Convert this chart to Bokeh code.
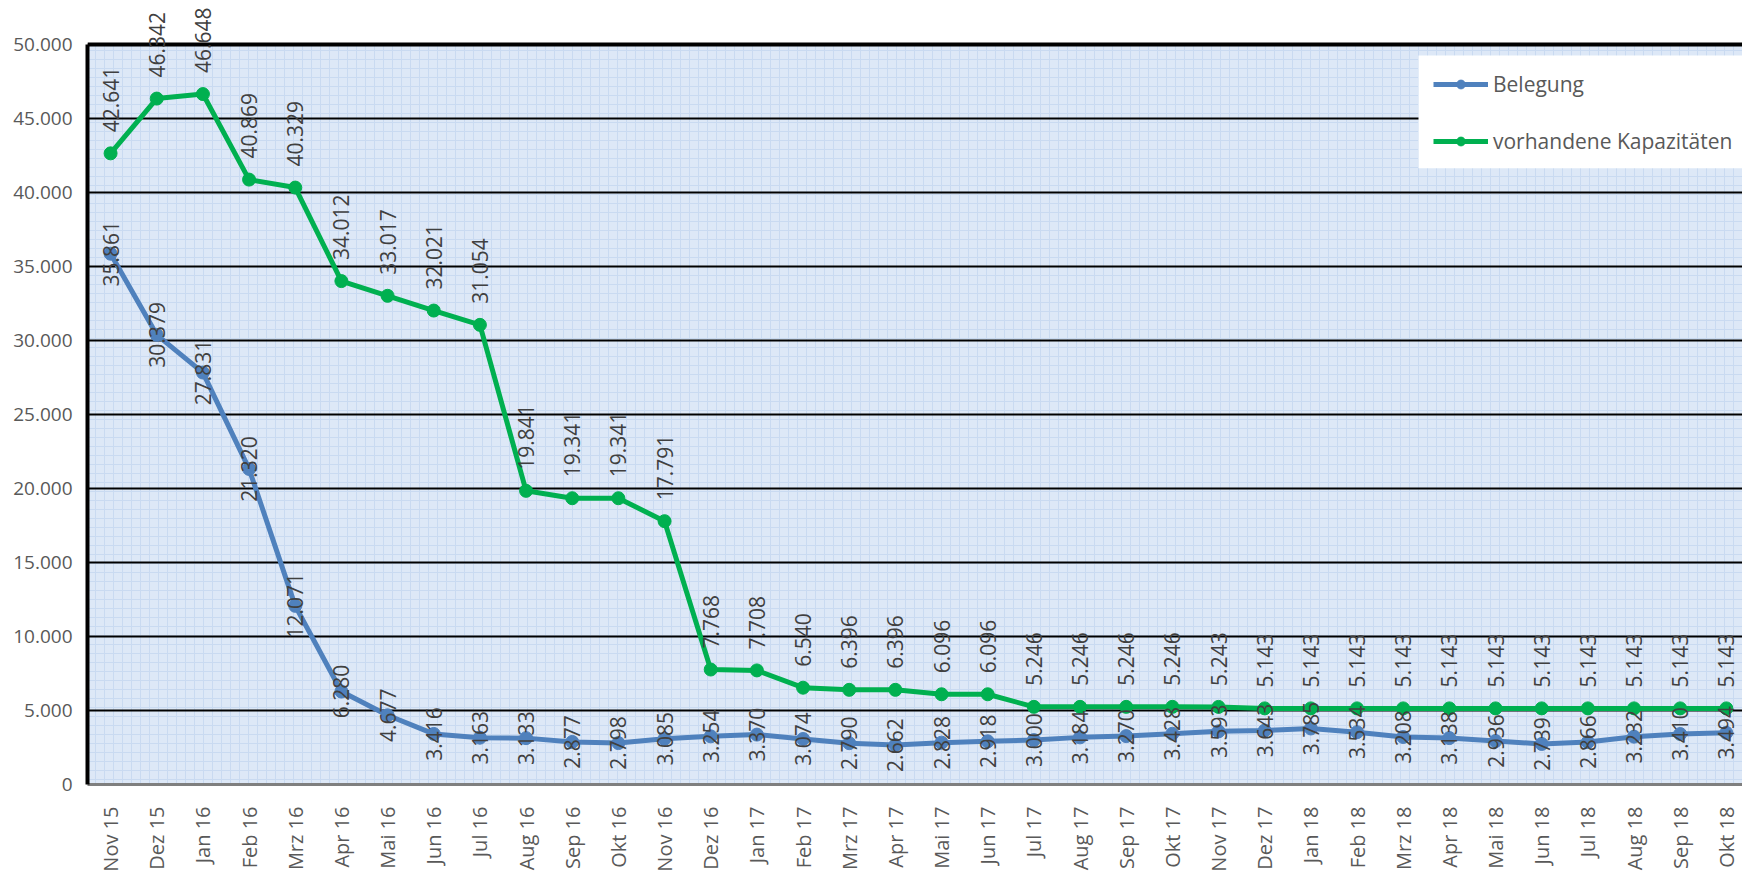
import math
from bokeh.plotting import figure
from bokeh.models import (ColumnDataSource, Range1d, FixedTicker, LabelSet, Span,
                          Legend, LegendItem, BoxAnnotation)
from bokeh.core.properties import value
from bokeh.embed import file_html
from bokeh.resources import INLINE

months = ["Nov 15", "Dez 15", "Jan 16", "Feb 16", "Mrz 16", "Apr 16", "Mai 16", "Jun 16",
          "Jul 16", "Aug 16", "Sep 16", "Okt 16", "Nov 16", "Dez 16", "Jan 17", "Feb 17",
          "Mrz 17", "Apr 17", "Mai 17", "Jun 17", "Jul 17", "Aug 17", "Sep 17", "Okt 17",
          "Nov 17", "Dez 17", "Jan 18", "Feb 18", "Mrz 18", "Apr 18", "Mai 18", "Jun 18",
          "Jul 18", "Aug 18", "Sep 18", "Okt 18"]

belegung = [35861, 30379, 27831, 21320, 12071, 6280, 4677, 3416, 3163, 3133, 2877, 2798,
            3085, 3254, 3370, 3074, 2790, 2662, 2828, 2918, 3000, 3184, 3270, 3428,
            3593, 3643, 3785, 3534, 3208, 3138, 2936, 2739, 2866, 3232, 3410, 3494]

kapazitaeten = [42641, 46342, 46648, 40869, 40329, 34012, 33017, 32021, 31054, 19841,
                19341, 19341, 17791, 7768, 7708, 6540, 6396, 6396, 6096, 6096, 5246,
                5246, 5246, 5246, 5243, 5143, 5143, 5143, 5143, 5143, 5143, 5143, 5143,
                5143, 5143, 5143]

y_ticks = [0, 5000, 10000, 15000, 20000, 25000, 30000, 35000, 40000, 45000, 50000]
y_tick_labels = ["0", "5.000", "10.000", "15.000", "20.000", "25.000", "30.000",
                 "35.000", "40.000", "45.000", "50.000"]

series_names = ["Belegung", "vorhandene Kapazitäten"]


def de_fmt(v):
    return f"{v:,}".replace(",", ".")


xs = list(range(len(months)))
src_b = ColumnDataSource(dict(x=xs, y=belegung, lab=[de_fmt(v) for v in belegung]))
src_k = ColumnDataSource(dict(x=xs, y=kapazitaeten, lab=[de_fmt(v) for v in kapazitaeten]))

FONT = "Open Sans"
BLUE = "#4f81bd"
GREEN = "#00b050"

# ---- layout (pixels) ----
W, H = 1742, 874
LEFT, BOTTOM = 87, 89
PLOT_TOP_PX = 44            # page y of the top border of the plot area
X0, X1 = -0.5, 35.35
Y_MAX = y_ticks[-1]
frame_h = H - BOTTOM
frame_w = W - LEFT
y_top = Y_MAX * frame_h / (frame_h - PLOT_TOP_PX)


def px_to_x(px):
    return X0 + (px - LEFT) / frame_w * (X1 - X0)


def px_to_y(py):
    return (frame_h - py) / frame_h * y_top


p = figure(width=W, height=H, output_backend="svg", toolbar_location=None,
           x_range=Range1d(X0, X1), y_range=Range1d(0, y_top),
           min_border_left=LEFT, min_border_right=0, min_border_top=0,
           min_border_bottom=BOTTOM)

p.background_fill_color = "white"
p.border_fill_color = "white"
p.outline_line_color = None

# patterned plot-area background
bg = BoxAnnotation(bottom=0, top=Y_MAX, fill_color="#dde8f7", fill_alpha=1.0,
                   line_color=None, hatch_pattern="+", hatch_color="#c9daf1",
                   hatch_scale=9, hatch_weight=1, level="image")
p.add_layout(bg)

# grid
p.xgrid.grid_line_color = None
p.ygrid.grid_line_color = "black"
p.ygrid.grid_line_width = 2
p.ygrid.ticker = FixedTicker(ticks=y_ticks)

# top border
p.add_layout(Span(location=Y_MAX, dimension="width", line_color="black", line_width=4))

# y axis
p.yaxis.ticker = FixedTicker(ticks=y_ticks)
p.yaxis.bounds = (0, Y_MAX)
p.yaxis.major_label_overrides = {t: l for t, l in zip(y_ticks, y_tick_labels)}
p.yaxis.axis_line_color = "black"
p.yaxis.axis_line_width = 4
p.yaxis.major_tick_line_color = None
p.yaxis.minor_tick_line_color = None
p.yaxis.major_label_text_font = FONT
p.yaxis.major_label_text_font_size = "19px"
p.yaxis.major_label_text_color = "#595959"
p.yaxis.major_label_standoff = 9

# x axis
p.xaxis.ticker = FixedTicker(ticks=xs)
p.xaxis.major_label_overrides = {i: m for i, m in enumerate(months)}
p.xaxis.major_label_orientation = math.pi / 2
p.xaxis.axis_line_color = "#7f7f7f"
p.xaxis.axis_line_width = 3
p.xaxis.major_tick_line_color = None
p.xaxis.minor_tick_line_color = None
p.xaxis.major_label_text_font = FONT
p.xaxis.major_label_text_font_size = "20px"
p.xaxis.major_label_text_color = "#595959"
p.xaxis.major_label_standoff = 16

# series
lb = p.line("x", "y", source=src_b, line_color=BLUE, line_width=5)
mb = p.scatter("x", "y", source=src_b, size=13, fill_color=BLUE, line_color=BLUE)
lk = p.line("x", "y", source=src_k, line_color=GREEN, line_width=5)
mk = p.scatter("x", "y", source=src_k, size=13, fill_color=GREEN, line_color=GREEN)

# data labels
labs_b = LabelSet(x="x", y="y", text="lab", source=src_b, angle=math.pi / 2,
                  text_align="center", text_baseline="middle", text_font=value(FONT),
                  text_font_size=value("21px"), text_color=value("#404040"))
labs_k = LabelSet(x="x", y="y", text="lab", source=src_k, angle=math.pi / 2,
                  text_align="left", text_baseline="middle", text_font=value(FONT),
                  text_font_size=value("21px"), text_color=value("#404040"), y_offset=21)
p.add_layout(labs_b)
p.add_layout(labs_k)

# legend: white box, then the legend entries on top of it
legend_box = BoxAnnotation(left=px_to_x(1418), right=X1 + 5, top=px_to_y(55),
                           bottom=px_to_y(168), fill_color="white", fill_alpha=1.0,
                           line_color=None)
p.add_layout(legend_box)

legend = Legend(items=[LegendItem(label=series_names[0], renderers=[lb, mb]),
                       LegendItem(label=series_names[1], renderers=[lk, mk])],
                location=(1346, 629), orientation="vertical",
                background_fill_alpha=0, border_line_color=None,
                padding=18, spacing=29, margin=0,
                glyph_width=55, glyph_height=22, label_height=22, label_standoff=5,
                label_text_font=FONT, label_text_font_size="21px",
                label_text_color="#595959")
p.add_layout(legend, "center")

open("out.html", "w").write(file_html(p, INLINE))
